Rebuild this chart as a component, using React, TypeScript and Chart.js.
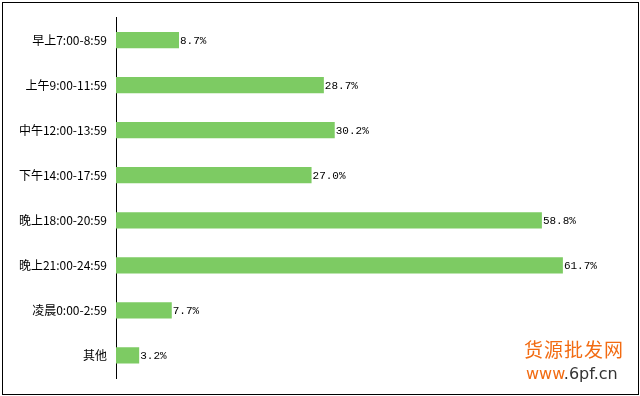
import React, { useEffect, useRef } from "react";
import { Chart, registerables } from "chart.js";

Chart.register(...registerables);

const categories = [
  "早上7:00-8:59",
  "上午9:00-11:59",
  "中午12:00-13:59",
  "下午14:00-17:59",
  "晚上18:00-20:59",
  "晚上21:00-24:59",
  "凌晨0:00-2:59",
  "其他",
];
const values = [8.7, 28.7, 30.2, 27.0, 58.8, 61.7, 7.7, 3.2];
const valueLabels = ["8.7%", "28.7%", "30.2%", "27.0%", "58.8%", "61.7%", "7.7%", "3.2%"];

const labelPlugin = {
  id: "barValueLabels",
  afterDatasetsDraw(chart: any) {
    const ctx = chart.ctx;
    const meta = chart.getDatasetMeta(0);
    ctx.save();
    ctx.font = '11px "Liberation Mono", "DejaVu Sans Mono", monospace';
    ctx.fillStyle = "#000";
    ctx.textAlign = "left";
    ctx.textBaseline = "middle";
    meta.data.forEach((bar: any, i: number) => {
      ctx.fillText(valueLabels[i], bar.x + 1, bar.y + 1);
    });
    ctx.restore();
  },
};

export default function App() {
  const ref = useRef<HTMLCanvasElement | null>(null);
  useEffect(() => {
    document.body.style.margin = "0";
    const chart = new Chart(ref.current as HTMLCanvasElement, {
      type: "bar",
      data: {
        labels: categories,
        datasets: [
          {
            data: values,
            backgroundColor: "#7dcb63",
            borderWidth: 0,
            barPercentage: 0.36,
            categoryPercentage: 1,
          },
        ],
      },
      options: {
        indexAxis: "y",
        animation: false,
        responsive: false,
        maintainAspectRatio: false,
        layout: { padding: { top: 17.5, bottom: 18, right: 17, left: 0 } },
        plugins: { legend: { display: false }, tooltip: { enabled: false } },
        scales: {
          x: { display: false, min: 0, max: 70 },
          y: {
            afterFit(scale: any) {
              scale.width = 116;
            },
            grid: { display: false, drawTicks: false },
            border: { display: true, color: "#000", width: 1 },
            ticks: {
              color: "#000",
              padding: 9,
              font: { family: '"Noto Sans CJK SC", "DejaVu Sans", sans-serif', size: 12 },
            },
          },
        },
      },
      plugins: [labelPlugin],
    });
    return () => chart.destroy();
  }, []);
  return (
    <div style={{ position: "relative", width: 640, height: 396, background: "#fff", overflow: "hidden" }}>
      <canvas ref={ref} width={640} height={396} style={{ position: "absolute", left: 0, top: 0 }} />
      <div
        style={{
          position: "absolute",
          left: 2,
          top: 2,
          width: 635,
          height: 391,
          border: "1px solid #000",
          pointerEvents: "none",
        }}
      />
      <div
        style={{
          position: "absolute",
          left: 524,
          top: 338,
          fontFamily: '"Noto Sans CJK SC", sans-serif',
          fontSize: 19,
          color: "#f26b12",
          lineHeight: "22px",
          letterSpacing: 1,
        }}
      >
        货源批发网
      </div>
      <div
        style={{
          position: "absolute",
          left: 526,
          top: 364,
          fontFamily: '"DejaVu Sans", sans-serif',
          fontSize: 16,
          lineHeight: "20px",
          color: "#f26b12",
        }}
      >
        www<span style={{ color: "#333" }}>.6pf.cn</span>
      </div>
    </div>
  );
}
